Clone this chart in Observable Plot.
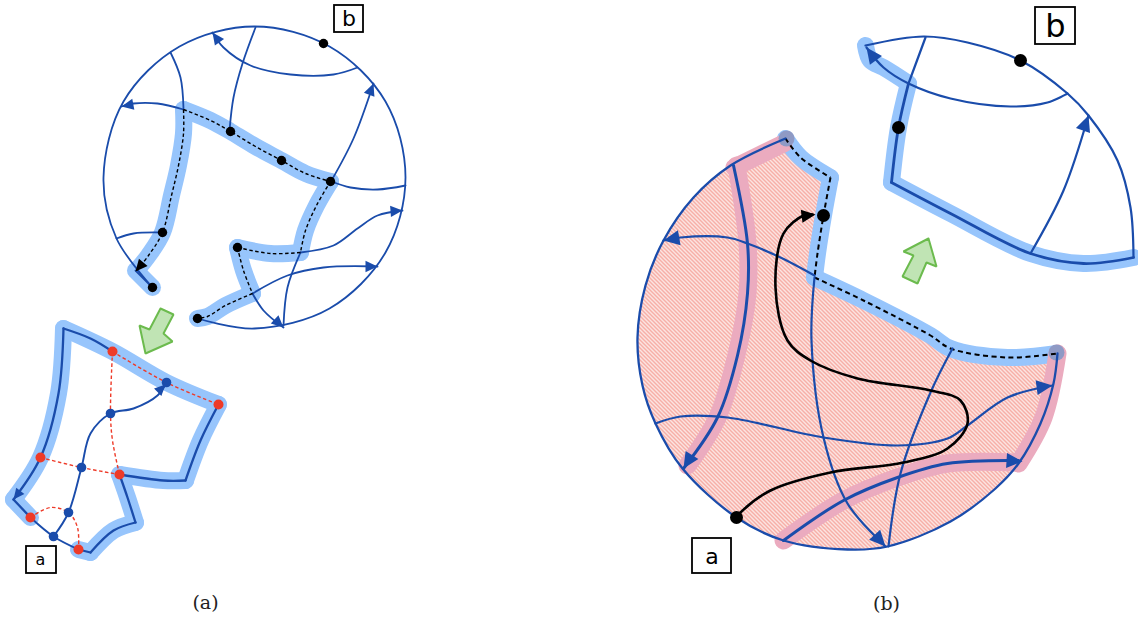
<!DOCTYPE html>
<html><head><meta charset="utf-8">
<script src="https://cdn.jsdelivr.net/npm/d3@7"></script>
<script src="https://cdn.jsdelivr.net/npm/@observablehq/plot@0.6"></script>
<style>html,body{margin:0;padding:0;background:#fff}svg{display:block}</style>
</head><body><div id="chart"></div>
<script>
// ---- colours
const BLUE="#1a4cab", BAND="#97c5fc", PINK="#ebabbf", RED="#ee3a28", HATCH="#f4968c";
// ---- panel (a), top disc
const discA=[[197,318],[254,328],[329,308],[385,252],[405,177],[385,101],[329,46],[254,26],[179,46],[123,101],[103,177],[116,238],[152,287]];
const pathA=[
 [[136,270],[148,255],[162,232],[171,195],[178,165],[183,133],[183,109]],
 [[183,109],[210,120],[230,131],[255,146],[281,160],[305,173],[330,181]],
 [[330,181],[316,205],[305,230],[300,252]],
 [[300,252],[270,253],[237,247]],
 [[237,247],[243,270],[252,293]],
 [[252,293],[225,305],[207,316],[197,318]]
];
const hookA=[[135,270],[152,287]];
const thinA=[
 [[170,52],[180,77],[183,108]],
 [[183,109],[157,103],[133,103],[121,106]],
 [[255,27],[242,63],[233,97],[229,130]],
 [[357,67],[333,74],[290,74],[250,65],[223,47],[212,32]],
 [[331,180],[353,138],[373,83]],
 [[331,181],[350,187],[377,189],[405,185]],
 [[300,252],[333,245],[357,228],[377,215],[402,210]],
 [[300,252],[287,287],[283,325]],
 [[252,293],[263,310],[283,327]],
 [[252,293],[287,275],[323,267],[377,266]],
 [[116,238],[133,233],[162,232]],
 [[135,270],[152,287]]
];
const dotsA=[[323,43],[230,131],[281,160],[330,181],[162,232],[152,287],[237,247],[197,318]];
const arrowsA=[[121,106,137,103],[212,32,222,46],[373,83,366,101],[402,210,389,211],[283,327,272,317],[377,266,362,266]];
const arrowBlackA=[[135,271,146,258]];
// ---- panel (a), cut piece
const bandCut=[
 [[78,549],[90,552]],
 [[90,552],[113,530],[135,522]],
 [[135,522],[127,497],[119,474]],
 [[119,474],[163,480],[185,480]],
 [[185,480],[200,440],[218,404]],
 [[218,404],[166,382],[112,351],[63,328]],
 [[63,328],[58,393],[40,457],[13,499]],
 [[13,499],[30,517]]
];
const lineCut=[
 [[78,549],[90,552]],
 [[90,552],[113,530],[135,522]],
 [[135,522],[127,497],[119,474]],
 [[119,474],[163,480],[185,480]],
 [[185,480],[200,440],[218,404]],
 [[112,351],[90,338],[63,328]],
 [[63,328],[58,393],[40,457],[13,499]],
 [[13,499],[30,517]]
];
const edgeCut=[[30,517],[53,536],[78,549]];
const innerCut=[[53,536],[68,512],[81,467],[90,433],[110,413],[133,408],[157,395],[166,382]];
const redDash=[
 [[112,351],[166,382],[218,404]],
 [[112,351],[110,413],[112,440],[119,474]],
 [[40,457],[81,467],[119,474]],
 [[30,517],[50,507],[68,512],[77,527],[78,549]]
];
const redDots=[[112,351],[218,404],[40,457],[119,474],[30,517],[78,549]];
const blueDots=[[166,382],[110,413],[81,467],[68,512],[53,536]];
const arrowsCut=[[165,384,152,397],[13,499,24,485]];
// ---- panel (b), big disc
const hatchOutline=[[785,138],[785,138],[730,165],[693,197],[663,240],[645,285],[637,337],[642,385],[655,423],[682,468],[736,517],[783,540],[847,549],[887,546],[950,521],[995,488],[1018,463],[1040,423],[1053,383],[1057,353],[1057,353],[1007,357],[950,348],[930,335],[863,300],[814,277],[814,277],[817,253],[823,215],[830,177],[830,177],[800,157],[785,138]];
const discB=[[785,138],[730,165],[693,197],[663,240],[645,285],[637,337],[642,385],[655,423],[682,468],[736,517],[783,540],[847,549],[887,546],[950,521],[995,488],[1018,463],[1040,423],[1053,383],[1057,353]];
const bandB=[
 [[785,138],[800,157],[830,177]],
 [[830,177],[823,215],[817,253],[814,277]],
 [[814,277],[863,300],[930,335],[950,348],[1007,357],[1057,353]]
];
const pinkB=[
 [[734,167],[783,143]],
 [[736,165],[747,243],[747,293],[737,350],[717,417],[687,465]],
 [[783,540],[843,500],[897,477],[947,463],[1016,462]],
 [[1018,463],[1043,417],[1057,353]]
];
const thickB=[
 [[733,165],[747,243],[747,293],[737,355],[717,417],[683,468]],
 [[783,540],[843,500],[897,477],[947,463],[1018,460]]
];
const thinB=[
 [[814,275],[780,257],[747,243],[727,237],[680,237],[663,240]],
 [[814,277],[811,340],[823,437],[847,503],[885,546]],
 [[952,348],[930,392],[900,473],[888,546]],
 [[655,423],[680,416],[727,417],[823,437],[897,445],[947,438],[967,425],[1007,397],[1052,385]]
];
const blackPath=[[736,517],[740,512],[770,490],[830,472],[903,462],[947,448],[967,423],[960,400],[930,390],[857,378],[810,360],[787,340],[775,287],[783,233],[803,215],[812,214]];
const dotsB=[[823,215],[736,517]];
const endCaps=[[786,138],[1056,352]];
const arrowsB=[[663,240,680,237],[885,546,873,533],[1052,385,1037,387],[1022,461,1007,460],[683,468,693,452]];
// ---- panel (b), piece b
const arcPiece=[[865,45],[923,36],[967,42],[1020,60],[1067,93],[1088,115],[1117,160],[1130,207],[1133,257]];
const bandPiece=[
 [[865,45],[870,60],[883,67],[908,83]],
 [[908,83],[898,127],[891,182]],
 [[891,182],[950,213],[1030,253],[1083,263],[1133,257]]
];
const thickPiece=[
 [[908,83],[898,127],[891,182]],
 [[891,182],[950,213],[1030,253],[1083,263],[1133,257]]
];
const thinPiece=[
 [[925,37],[908,83]],
 [[866,47],[883,67],[908,83],[950,98],[1010,106],[1047,102],[1067,93]],
 [[1030,253],[1063,190],[1088,115]]
];
const dotsPiece=[[1020,60],[898,127]];
const arrowsPiece=[[866,47,877,62],[1088,115,1081,134]];
// ---- green arrows
const greenArrows=[
 [[160,308],[173,314],[163,333],[172,341],[145,353],[139,325],[149,329],[160,308]],
 [[928,238],[936,266],[926,262],[917,283],[902,276],[913,255],[903,251],[928,238]]
];
// ---- labels
const boxes=[
 {x1:334,x2:363,y1:5,y2:32},
 {x1:26,x2:56,y1:546,y2:573},
 {x1:1035,x2:1075,y1:7,y2:44},
 {x1:692,x2:731,y1:538,y2:573}
];
const boxLabels=[
 {x:348.5,y:18,t:"b",s:22},
 {x:40,y:559,t:"a",s:16},
 {x:1055,y:26,t:"b",s:32},
 {x:711.5,y:556,t:"a",s:22}
];
const captions=[{x:205,y:602,t:"(a)"},{x:886,y:603,t:"(b)"}];

// ---- helpers
const X=d=>d[0], Y=d=>d[1];
const L=(pts,o)=>Plot.line(pts,{x:X,y:Y,curve:"catmull-rom",...o});
const Ls=(list,o)=>list.map(p=>L(p,o));
const D=(pts,r,fill)=>Plot.dot(pts,{x:X,y:Y,r,fill,stroke:"none"});
// slim arrowhead with its tip on the data point, pointing "up" before rotation
const head={draw(c,size){const r=Math.sqrt(size/Math.PI);c.moveTo(0,0);c.lineTo(-r*.47,r);c.lineTo(r*.47,r);c.closePath();}};
const A=(list,r,fill)=>Plot.dot(list,{x:X,y:Y,r,fill,stroke:"none",symbol:head,
  rotate:d=>Math.atan2(d[0]-d[2],-(d[1]-d[3]))*180/Math.PI});
const dash={stroke:"#000",strokeWidth:1.4,strokeDasharray:"3.5,2.5",strokeLinecap:"butt"};
const dashB={stroke:"#000",strokeWidth:2,strokeDasharray:"5,3.5",strokeLinecap:"butt"};

const defs=()=>{
  const s=d3.create("svg:defs");
  const p=s.append("pattern").attr("id","hatch").attr("patternUnits","userSpaceOnUse")
    .attr("width",4).attr("height",4);
  p.append("rect").attr("width",4).attr("height",4).attr("fill","#fff");
  p.append("path").attr("d","M-1,-1L5,5M-1,3L1,5M3,-1L5,1").attr("stroke",HATCH).attr("stroke-width",1.45).attr("fill","none");
  return s.node();
};

const chart=Plot.plot({
  width:1138,height:618,margin:0,
  style:{background:"#fff"},
  x:{domain:[0,1138],axis:null},
  y:{domain:[618,0],axis:null},
  marks:[
    defs,
    // panel (a) disc
    Ls(pathA,{stroke:BAND,strokeWidth:17}),
    L(hookA,{stroke:BAND,strokeWidth:17}),
    L(discA,{stroke:BLUE,strokeWidth:1.8}),
    Ls(thinA,{stroke:BLUE,strokeWidth:1.8}),
    Ls(pathA,dash),
    A(arrowsA,12,BLUE),
    A(arrowBlackA,12,"#000"),
    D(dotsA,4.7,"#000"),
    // panel (a) piece
    Ls(bandCut,{stroke:BAND,strokeWidth:17}),
    Ls(lineCut,{stroke:BLUE,strokeWidth:2.3}),
    L(edgeCut,{stroke:BLUE,strokeWidth:1.9}),
    L(innerCut,{stroke:BLUE,strokeWidth:1.9}),
    Ls(redDash,{stroke:RED,strokeWidth:1.4,strokeDasharray:"3.5,2.5",strokeLinecap:"butt"}),
    A(arrowsCut,11,BLUE),
    D(redDots,5,RED),
    D(blueDots,4.8,BLUE),
    // panel (b) disc
    L(hatchOutline,{fill:"url(#hatch)",stroke:"none"}),
    Ls(bandB,{stroke:BAND,strokeWidth:17}),
    Ls(pinkB,{stroke:PINK,strokeWidth:18}),
    D(endCaps,8,"#8f9ac5"),
    Ls(bandB,dashB),
    L(discB,{stroke:BLUE,strokeWidth:2.3}),
    Ls(thickB,{stroke:BLUE,strokeWidth:3}),
    Ls(thinB,{stroke:BLUE,strokeWidth:2.2}),
    L(blackPath,{stroke:"#000",strokeWidth:2.6}),
    A([[815,214,800,216]],14,"#000"),
    A(arrowsB,16,BLUE),
    D(dotsB,6.5,"#000"),
    // panel (b) piece
    Ls(bandPiece,{stroke:BAND,strokeWidth:17}),
    L(arcPiece,{stroke:BLUE,strokeWidth:2.2}),
    Ls(thickPiece,{stroke:BLUE,strokeWidth:2.8}),
    Ls(thinPiece,{stroke:BLUE,strokeWidth:2.2}),
    A(arrowsPiece,16,BLUE),
    D(dotsPiece,6.5,"#000"),
    // green arrows
    greenArrows.map(p=>Plot.line(p,{x:X,y:Y,fill:"#c0e4b4",stroke:"#6cbb4e",strokeWidth:2,strokeLinejoin:"miter"})),
    // labelled boxes
    Plot.rect(boxes,{x1:"x1",x2:"x2",y1:"y1",y2:"y2",fill:"#fff",stroke:"#000",strokeWidth:1.8}),
    boxLabels.map(b=>Plot.text([b],{x:"x",y:"y",text:"t",fontSize:b.s,fontFamily:"DejaVu Sans",fill:"#000",textAnchor:"middle",lineAnchor:"middle"})),
    Plot.text(captions,{x:"x",y:"y",text:"t",fontSize:19,fontFamily:"DejaVu Serif",fill:"#222",textAnchor:"middle",lineAnchor:"middle"})
  ]
});
document.getElementById("chart").append(chart);
</script></body></html>
